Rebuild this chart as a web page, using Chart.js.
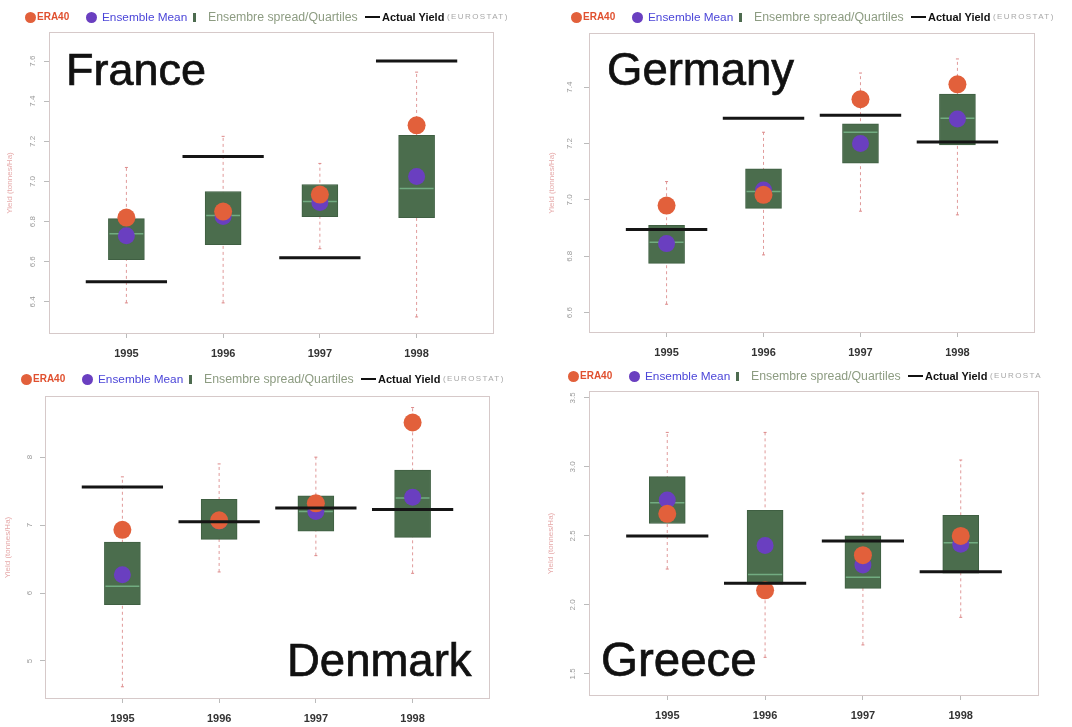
<!DOCTYPE html>
<html>
<head>
<meta charset="utf-8">
<script src="https://cdn.jsdelivr.net/npm/chart.js@4.4.1/dist/chart.umd.min.js"></script>
<style>
  html, body { margin: 0; padding: 0; background: #fff; }
  #wrap { position: relative; width: 1072px; height: 727px; overflow: hidden; font-family: "Liberation Sans", Arial, sans-serif; }
  .panel { position: absolute; width: 536px; height: 364px; overflow: hidden; }
  .panel canvas { position: absolute; left: 0; top: 0; }
  .legend { position: absolute; height: 14px; white-space: nowrap; line-height: 14px; }
  .legend > span { position: absolute; top: 0; }
  .legend .dot { width: 11px; height: 11px; border-radius: 50%; top: 1.5px; }
  .legend .era { color: #e0502f; font-weight: bold; font-size: 10px; }
  .legend .ens { color: #4b45d8; font-size: 11.8px; }
  .legend .spr { color: #8d9c82; font-size: 12.3px; }
  .legend .act { color: #111; font-weight: bold; font-size: 11px; }
  .legend .src { color: #a8a8a8; font-size: 8px; letter-spacing: 1.4px; }
  .legend .boxsym { width: 3px; height: 9px; top: 2.5px; background: #4d6b4f; }
  .legend .linesym { width: 15px; height: 2px; top: 6px; background: #111; }
  .country { position: absolute; font-size: 45px; line-height: 46px; color: #111; white-space: nowrap;
             -webkit-text-stroke: 0.7px #111; }
</style>
</head>
<body>
<div id="wrap"></div>
<script>
// Wheat yield per country, 1995-1998 (tonnes/Ha)
const years = ['1995', '1996', '1997', '1998'];

// France
const franceEra40  = [6.82, 6.85, 6.935, 7.28];
const franceMean   = [6.73, 6.825, 6.895, 7.025];
const franceQ1     = [6.61, 6.685, 6.825, 6.82];
const franceQ3     = [6.815, 6.95, 6.985, 7.23];
const franceMedian = [6.74, 6.83, 6.9, 6.965];
const franceLow    = [6.395, 6.395, 6.665, 6.325];
const franceHigh   = [7.07, 7.225, 7.09, 7.545];
const franceActual = [6.5, 7.125, 6.62, 7.6];
const franceTicks  = [6.4, 6.6, 6.8, 7.0, 7.2, 7.4, 7.6];

// Germany
const germanyEra40  = [6.98, 7.018, 7.357, 7.41];
const germanyMean   = [6.845, 7.035, 7.2, 7.287];
const germanyQ1     = [6.775, 6.97, 7.13, 7.195];
const germanyQ3     = [6.91, 7.11, 7.27, 7.375];
const germanyMedian = [6.85, 7.03, 7.24, 7.29];
const germanyLow    = [6.63, 6.805, 6.96, 6.947];
const germanyHigh   = [7.065, 7.24, 7.45, 7.5];
const germanyActual = [6.895, 7.29, 7.3, 7.205];
const germanyTicks  = [6.6, 6.8, 7.0, 7.2, 7.4];

// Denmark
const denmarkEra40  = [6.93, 7.07, 7.32, 8.51];
const denmarkMean   = [6.27, 7.06, 7.2, 7.41];
const denmarkQ1     = [5.83, 6.79, 6.91, 6.82];
const denmarkQ3     = [6.75, 7.38, 7.43, 7.81];
const denmarkMedian = [6.1, 7.05, 7.2, 7.4];
const denmarkLow    = [4.62, 6.31, 6.55, 6.29];
const denmarkHigh   = [7.71, 7.9, 8.0, 8.73];
const denmarkActual = [7.56, 7.05, 7.25, 7.23];
const denmarkTicks  = [5, 6, 7, 8];

// Greece
const greeceEra40  = [2.66, 2.106, 2.36, 2.5];
const greeceMean   = [2.76, 2.43, 2.29, 2.44];
const greeceQ1     = [2.59, 2.15, 2.12, 2.23];
const greeceQ3     = [2.93, 2.686, 2.5, 2.65];
const greeceMedian = [2.74, 2.22, 2.2, 2.45];
const greeceLow    = [2.26, 1.62, 1.71, 1.91];
const greeceHigh   = [3.25, 3.25, 2.81, 3.05];
const greeceActual = [2.5, 2.157, 2.464, 2.24];
const greeceTicks  = [1.5, 2.0, 2.5, 3.0, 3.5];

const panels = [
  { id: 'france', name: 'France', left: 0, top: 0,
    era40: franceEra40, mean: franceMean, q1: franceQ1, q3: franceQ3, median: franceMedian,
    low: franceLow, high: franceHigh, actual: franceActual, ticks: franceTicks, decimals: 1,
    yMin: 6.24, yMax: 7.745, frame: { l: 49, r: 494, t: 32, b: 334 }, labelX: 33, titlePad: 5,
    legend: { x: 25, y: 10 }, country: { x: 66, base: 86, size: 45 }, source: '(EUROSTAT)' },
  { id: 'germany', name: 'Germany', left: 536, top: 0,
    era40: germanyEra40, mean: germanyMean, q1: germanyQ1, q3: germanyQ3, median: germanyMedian,
    low: germanyLow, high: germanyHigh, actual: germanyActual, ticks: germanyTicks, decimals: 1,
    yMin: 6.528, yMax: 7.592, frame: { l: 53, r: 499, t: 33, b: 333 }, labelX: 34, titlePad: 11,
    legend: { x: 35, y: 10 }, country: { x: 71, base: 86, size: 45.5 }, source: '(EUROSTAT)' },
  { id: 'denmark', name: 'Denmark', left: 0, top: 364,
    era40: denmarkEra40, mean: denmarkMean, q1: denmarkQ1, q3: denmarkQ3, median: denmarkMedian,
    low: denmarkLow, high: denmarkHigh, actual: denmarkActual, ticks: denmarkTicks, decimals: 0,
    yMin: 4.44, yMax: 8.9, frame: { l: 45, r: 490, t: 32, b: 335 }, labelX: 30, titlePad: 3,
    legend: { x: 21, y: 8 }, country: { x: 287, base: 313, size: 45.5 }, source: '(EUROSTAT)' },
  { id: 'greece', name: 'Greece', left: 536, top: 364,
    era40: greeceEra40, mean: greeceMean, q1: greeceQ1, q3: greeceQ3, median: greeceMedian,
    low: greeceLow, high: greeceHigh, actual: greeceActual, ticks: greeceTicks, decimals: 1,
    yMin: 1.34, yMax: 3.55, frame: { l: 53, r: 503, t: 27, b: 332 }, labelX: 37, titlePad: 10,
    legend: { x: 32, y: 5 }, country: { x: 65, base: 312, size: 47.5 }, source: '(EUROSTA' }
];

// Grey-red box around the plotting region, like a base-graphics frame
const framePlugin = {
  id: 'frame',
  beforeDraw(chart) {
    const c = chart.ctx;
    c.save();
    c.fillStyle = '#fff';
    c.fillRect(0, 0, chart.width, chart.height);
    c.restore();
  },
  afterDraw(chart) {
    const a = chart.chartArea, c = chart.ctx;
    c.save();
    c.strokeStyle = '#d6c9c9';
    c.lineWidth = 1;
    c.strokeRect(a.left + 0.5, a.top + 0.5, a.right - a.left - 1, a.bottom - a.top - 1);
    c.restore();
  }
};

// Y tick labels written parallel to the axis
const rotatedYLabels = {
  id: 'rotatedYLabels',
  afterDraw(chart, args, opts) {
    const s = chart.scales.y, c = chart.ctx;
    c.save();
    c.fillStyle = '#9a9a9a';
    c.font = '8px "Liberation Sans", Arial, sans-serif';
    c.textAlign = 'center';
    c.textBaseline = 'middle';
    s.ticks.forEach(t => {
      const py = s.getPixelForValue(t.value);
      c.save();
      c.translate(opts.x, py);
      c.rotate(-Math.PI / 2);
      c.fillText(t.value.toFixed(opts.decimals), 0, 0);
      c.restore();
    });
    c.restore();
  }
};

// Short horizontal segments centred on each year, separated by gaps
function segments(values, half) {
  const pts = [];
  values.forEach((v, i) => {
    pts.push({ x: i + 1 - half, y: v }, { x: i + 1 + half, y: v }, { x: i + 1, y: null });
  });
  return pts;
}

function buildPanel(p) {
  const wrap = document.getElementById('wrap');
  const div = document.createElement('div');
  div.className = 'panel';
  div.style.left = p.left + 'px';
  div.style.top = p.top + 'px';
  const canvas = document.createElement('canvas');
  canvas.width = 536; canvas.height = 364;
  canvas.style.width = '536px'; canvas.style.height = '364px';
  div.appendChild(canvas);

  // legend row
  const lg = document.createElement('div');
  lg.className = 'legend';
  lg.style.left = p.legend.x + 'px';
  lg.style.top = p.legend.y + 'px';
  lg.innerHTML =
    '<span class="dot" style="left:0;background:#e2603b"></span>' +
    '<span class="era" style="left:12px">ERA40</span>' +
    '<span class="dot" style="left:61px;background:#6a3fc0"></span>' +
    '<span class="ens" style="left:77px">Ensemble Mean</span>' +
    '<span class="boxsym" style="left:168px"></span>' +
    '<span class="spr" style="left:183px">Ensembre spread/Quartiles</span>' +
    '<span class="linesym" style="left:340px"></span>' +
    '<span class="act" style="left:357px">Actual Yield</span>' +
    '<span class="src" style="left:422px">' + p.source + '</span>';
  div.appendChild(lg);

  const name = document.createElement('div');
  name.className = 'country';
  name.textContent = p.name;
  name.style.fontSize = p.country.size + 'px';
  name.style.left = p.country.x + 'px';
  name.style.top = (p.country.base - 39) + 'px';
  div.appendChild(name);
  wrap.appendChild(div);

  const whiskers = [];
  p.low.forEach((lo, i) => {
    whiskers.push({ x: i + 1, y: lo }, { x: i + 1, y: p.high[i] }, { x: i + 1, y: null });
  });

  new Chart(canvas, {
    type: 'bar',
    data: {
      datasets: [
        { type: 'line', label: 'whiskers', data: whiskers, borderColor: '#e09a9a', borderWidth: 1,
          borderDash: [3, 3], pointRadius: 1.5, pointStyle: 'line', pointBorderColor: '#d88', pointBorderWidth: 1,
          spanGaps: false, order: 7 },
        { type: 'bar', label: 'Ensembre spread/Quartiles', data: p.q1.map((q, i) => ({ x: i + 1, y: [q, p.q3[i]] })),
          backgroundColor: '#4b6d4d', borderColor: '#3f5f42', borderWidth: 1, borderSkipped: false,
          barThickness: 36, order: 6 },
        { type: 'line', label: 'median', data: segments(p.median, 0.175), borderColor: 'rgba(140,215,165,0.6)',
          borderWidth: 1.5, pointRadius: 0, spanGaps: false, order: 5 },
        { type: 'scatter', label: 'Ensemble Mean', data: p.mean.map((v, i) => ({ x: i + 1, y: v })),
          backgroundColor: '#6a3fc0', borderColor: '#6a3fc0', pointRadius: 8.5, borderWidth: 0, order: 4 },
        { type: 'scatter', label: 'ERA40', data: p.era40.map((v, i) => ({ x: i + 1, y: v })),
          backgroundColor: '#e2603b', borderColor: '#e2603b', pointRadius: 9, borderWidth: 0, order: 3 },
        { type: 'line', label: 'Actual Yield', data: segments(p.actual, 0.42), borderColor: '#151515',
          borderWidth: 3, pointRadius: 0, spanGaps: false, order: 2 }
      ]
    },
    options: {
      responsive: false,
      devicePixelRatio: 1,
      animation: false,
      events: [],
      layout: { padding: { left: 0, top: p.frame.t, right: 536 - p.frame.r, bottom: 0 } },
      plugins: {
        legend: { display: false },
        tooltip: { enabled: false },
        rotatedYLabels: { x: p.labelX, decimals: p.decimals }
      },
      scales: {
        x: {
          type: 'linear', min: 0.2, max: 4.8, offset: false,
          afterBuildTicks: s => { s.ticks = years.map((y, i) => ({ value: i + 1 })); },
          afterFit: s => { s.height = 364 - p.frame.b; },
          grid: { offset: false, drawOnChartArea: false, drawTicks: true, tickLength: 4, color: '#bbb' },
          border: { display: false },
          ticks: { callback: v => years[v - 1], color: '#333', padding: 9,
                   font: { family: '"Liberation Sans", Arial, sans-serif', size: 11, weight: 'bold' } }
        },
        y: {
          type: 'linear', min: p.yMin, max: p.yMax,
          afterBuildTicks: s => { s.ticks = p.ticks.map(v => ({ value: v })); },
          afterFit: s => { s.width = p.frame.l; },
          grid: { drawOnChartArea: false, drawTicks: true, tickLength: 5, color: '#bbb' },
          border: { display: false },
          ticks: { display: false },
          title: { display: true, text: 'Yield (tonnes/Ha)', color: '#e6a9a9',
                   font: { family: '"Liberation Sans", Arial, sans-serif', size: 8 },
                   padding: { top: p.titlePad, bottom: 0 } }
        }
      }
    },
    plugins: [framePlugin, rotatedYLabels]
  });
}

panels.forEach(buildPanel);
</script>
</body>
</html>
